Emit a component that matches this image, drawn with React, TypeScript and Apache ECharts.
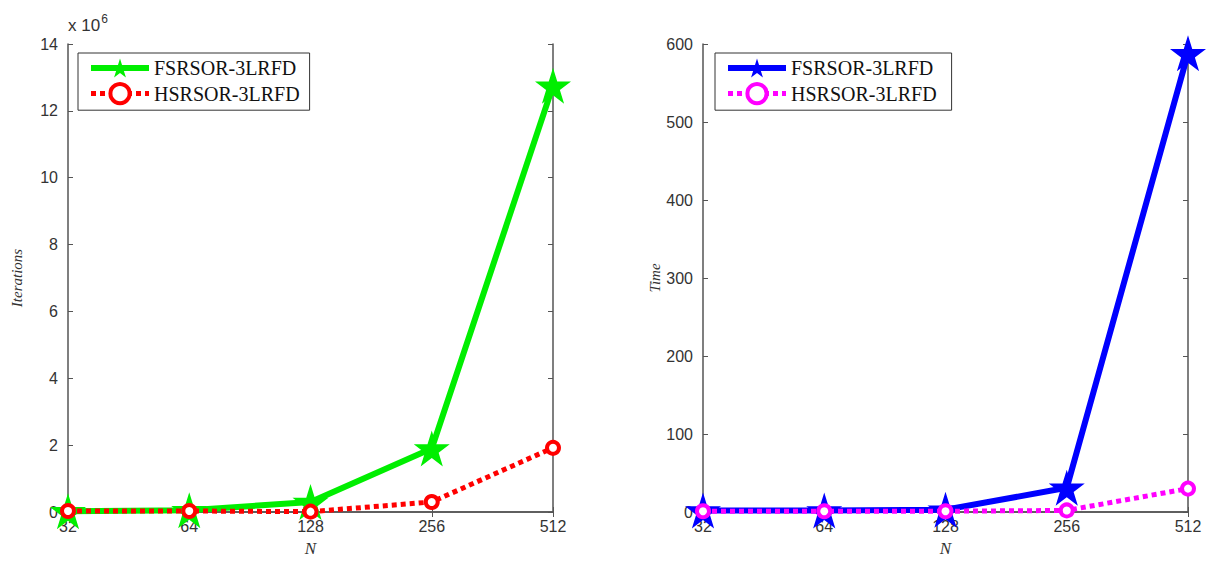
import React, { useEffect, useRef } from "react";
import * as echarts from "echarts";

const categories = ["32", "64", "128", "256", "512"];
// Left panel: iterations (x 10^6)
const fsrIter = [0.02, 0.05, 0.3, 1.9, 12.75];
const hsrIter = [0.03, 0.03, 0.01, 0.3, 1.92];
// Right panel: time
const fsrTime = [2, 2, 3, 31, 588];
const hsrTime = [1, 1, 1, 2, 30];

const iterTicks = { min: 0, max: 14, interval: 2 };
const timeTicks = { min: 0, max: 600, interval: 100 };

const STAR =
  "path://M50,0 L61.2,34.5 L97.6,34.5 L68.2,55.9 L79.4,90.5 L50,69.1 L20.6,90.5 L31.8,55.9 L2.4,34.5 L38.8,34.5 Z";

const labelFont = { fontFamily: "Liberation Sans", fontSize: 16, color: "#333" };
const axisColor = "#555";

function xAxes(gridIndex: number) {
  return [
    {
      type: "category",
      gridIndex,
      data: categories,
      boundaryGap: false,
      name: "N",
      nameLocation: "middle",
      nameGap: 28,
      nameTextStyle: { fontFamily: "Liberation Serif", fontStyle: "italic", fontSize: 17, color: "#333" },
      axisLine: { show: true, lineStyle: { color: axisColor, width: 1.5 } },
      axisTick: { show: true, inside: true, length: 5, alignWithLabel: true, lineStyle: { color: axisColor } },
      axisLabel: { ...labelFont, margin: 6 },
      splitLine: { show: false },
    },
    {
      type: "category",
      gridIndex,
      data: categories,
      boundaryGap: false,
      position: "top",
      axisLine: { show: true, lineStyle: { color: axisColor, width: 1.5 } },
      axisTick: { show: true, inside: true, length: 5, lineStyle: { color: axisColor } },
      axisLabel: { show: false },
      splitLine: { show: false },
    },
  ];
}

function yAxes(gridIndex: number, ticks: any, name: string, nameGap: number) {
  return [
    {
      type: "value",
      gridIndex,
      ...ticks,
      name,
      nameLocation: "middle",
      nameGap,
      nameRotate: 90,
      nameTextStyle: { fontFamily: "Liberation Serif", fontStyle: "italic", fontSize: 15, color: "#333" },
      axisLine: { show: true, lineStyle: { color: axisColor, width: 1.5 } },
      axisTick: { show: true, inside: true, length: 5, lineStyle: { color: axisColor } },
      axisLabel: { ...labelFont, margin: 10 },
      splitLine: { show: false },
    },
    {
      type: "value",
      gridIndex,
      ...ticks,
      position: "right",
      axisLine: { show: true, lineStyle: { color: axisColor, width: 1.5 } },
      axisTick: { show: true, inside: true, length: 5, lineStyle: { color: axisColor } },
      axisLabel: { show: false },
      splitLine: { show: false },
    },
  ];
}

function starSeries(name: string, data: number[], color: string, xi: number, yi: number) {
  return {
    type: "line",
    name,
    data,
    xAxisIndex: xi,
    yAxisIndex: yi,
    symbol: STAR,
    symbolSize: 36,
    itemStyle: { color },
    lineStyle: { color, width: 6, type: "solid" },
    z: 2,
  };
}

function circleSeries(name: string, data: number[], color: string, xi: number, yi: number) {
  return {
    type: "line",
    name,
    data,
    xAxisIndex: xi,
    yAxisIndex: yi,
    symbol: "circle",
    symbolSize: 12,
    itemStyle: { color: "#fff", borderColor: color, borderWidth: 4 },
    lineStyle: { color, width: 5, type: [5, 4] },
    z: 3,
  };
}

const legendBase = {
  orient: "vertical",
  top: 53,
  itemWidth: 58,
  itemHeight: 24,
  itemGap: 4,
  padding: [5, 10, 5, 10],
  borderColor: "#333",
  borderWidth: 1,
  backgroundColor: "#fff",
  textStyle: { fontFamily: "Liberation Serif", fontSize: 20, color: "#111" },
};

function legendItems(suffix: string, c1: string, c2: string) {
  return [
    {
      name: "FSRSOR-3LRFD" + suffix,
      lineStyle: { width: 6, color: c1 },
    },
    {
      name: "HSRSOR-3LRFD" + suffix,
      lineStyle: { width: 5, color: c2, type: [5, 4] },
      itemStyle: { borderWidth: 4 },
    },
  ];
}

export default function App() {
  const ref = useRef<HTMLDivElement>(null);
  useEffect(() => {
    const chart = echarts.init(ref.current!, null, { renderer: "svg" });
    chart.setOption({
      animation: false,
      backgroundColor: "#fff",
      grid: [
        { left: 68, right: 653, top: 44, bottom: 47 },
        { left: 703, right: 18, top: 44, bottom: 47 },
      ],
      xAxis: [...xAxes(0), ...xAxes(1)],
      yAxis: [
        ...yAxes(0, iterTicks, "Iterations", 44),
        ...yAxes(1, timeTicks, "Time", 25),
      ],
      legend: [
        { ...legendBase, left: 78, data: legendItems("", "#00ee00", "#ff0000") },
        { ...legendBase, left: 715, data: legendItems(" ", "#0000ff", "#ff00ff") },
      ],
      graphic: [
        {
          type: "text",
          left: 68,
          top: 13,
          style: {
            text: "x 10{s|6}",
            fontFamily: "Liberation Sans",
            fontSize: 17,
            fill: "#333",
            rich: { s: { fontSize: 12, verticalAlign: "top", padding: [0, 0, 12, 1], fill: "#333" } },
          },
        },
      ],
      series: [
        starSeries("FSRSOR-3LRFD", fsrIter, "#00ee00", 0, 0),
        circleSeries("HSRSOR-3LRFD", hsrIter, "#ff0000", 0, 0),
        starSeries("FSRSOR-3LRFD ", fsrTime, "#0000ff", 2, 2),
        circleSeries("HSRSOR-3LRFD ", hsrTime, "#ff00ff", 2, 2),
      ],
    });
    return () => chart.dispose();
  }, []);
  return (
    <div
      ref={ref}
      style={{ position: "fixed", left: 0, top: 0, width: 1206, height: 562 }}
    />
  );
}
